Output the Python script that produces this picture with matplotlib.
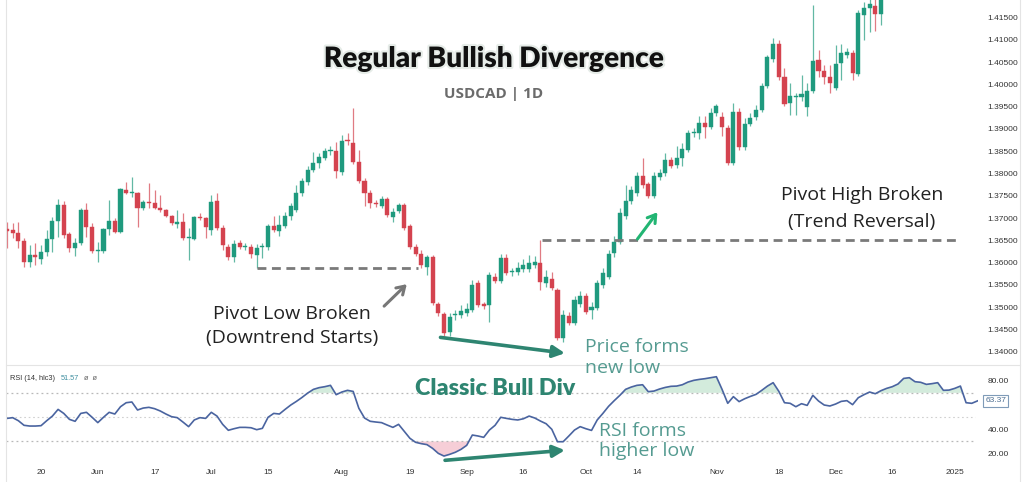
import matplotlib
matplotlib.use('Agg')
import matplotlib.pyplot as plt
from matplotlib.patches import Rectangle
from matplotlib.lines import Line2D
import matplotlib.patheffects as pe

# ---------------- data ----------------
opens = [1.3675, 1.3673, 1.3666, 1.3648, 1.3601, 1.3617, 1.3608, 1.3624, 1.3653, 1.3693,
         1.3729, 1.3664, 1.3633, 1.3644, 1.3718, 1.3680, 1.3626, 1.3626, 1.3675, 1.3693,
         1.3669, 1.3763, 1.3756, 1.3756, 1.3722, 1.3736, 1.3734, 1.3722, 1.3718, 1.3705,
         1.3687, 1.3691, 1.3655, 1.3653, 1.3702, 1.3700, 1.3673, 1.3738, 1.3678, 1.3635,
         1.3613, 1.3644, 1.3635, 1.3635, 1.3617, 1.3634, 1.3635, 1.3682, 1.3671, 1.3682,
         1.3705, 1.3718, 1.3756, 1.3781, 1.3808, 1.3823, 1.3835, 1.3850, 1.3850, 1.3803,
         1.3875, 1.3868, 1.3826, 1.3783, 1.3756, 1.3732, 1.3727, 1.3743, 1.3702, 1.3716,
         1.3729, 1.3682, 1.3635, 1.3619, 1.3590, 1.3613, 1.3507, 1.3485, 1.3444, 1.3482,
         1.3482, 1.3487, 1.3494, 1.3554, 1.3507, 1.3505, 1.3568, 1.3559, 1.3610, 1.3579,
         1.3579, 1.3586, 1.3586, 1.3595, 1.3599, 1.3554, 1.3563, 1.3539, 1.3431, 1.3480,
         1.3464, 1.3507, 1.3525, 1.3494, 1.3498, 1.3550, 1.3568, 1.3622, 1.3646, 1.3705,
         1.3738, 1.3756, 1.3794, 1.3776, 1.3749, 1.3792, 1.3801, 1.3830, 1.3819, 1.3835,
         1.3853, 1.3891, 1.3891, 1.3913, 1.3904, 1.3936, 1.3927, 1.3902, 1.3823, 1.3938,
         1.3859, 1.3911, 1.3927, 1.3942, 1.3996, 1.4057, 1.4091, 1.4017, 1.3958, 1.3972,
         1.3972, 1.3949, 1.3985, 1.4055, 1.4030, 1.4017, 1.3992, 1.4048, 1.4066, 1.4070,
         1.4023, 1.4156, 1.4171, 1.4176, 1.4158]
highs = [1.3691, 1.3689, 1.3691, 1.3655, 1.3639, 1.3644, 1.3639, 1.3673, 1.3702, 1.3743,
         1.3738, 1.3669, 1.3655, 1.3722, 1.3734, 1.3689, 1.3646, 1.3678, 1.3740, 1.3700,
         1.3767, 1.3781, 1.3792, 1.3758, 1.3740, 1.3779, 1.3763, 1.3752, 1.3720, 1.3707,
         1.3718, 1.3711, 1.3678, 1.3705, 1.3711, 1.3702, 1.3752, 1.3756, 1.3684, 1.3642,
         1.3651, 1.3651, 1.3644, 1.3642, 1.3642, 1.3644, 1.3687, 1.3705, 1.3707, 1.3713,
         1.3734, 1.3774, 1.3790, 1.3817, 1.3848, 1.3846, 1.3857, 1.3862, 1.3871, 1.3886,
         1.3891, 1.3947, 1.3853, 1.3790, 1.3763, 1.3740, 1.3749, 1.3747, 1.3722, 1.3734,
         1.3734, 1.3687, 1.3642, 1.3628, 1.3617, 1.3617, 1.3512, 1.3489, 1.3487, 1.3494,
         1.3505, 1.3509, 1.3561, 1.3561, 1.3512, 1.3579, 1.3577, 1.3619, 1.3619, 1.3588,
         1.3601, 1.3608, 1.3617, 1.3615, 1.3650, 1.3583, 1.3579, 1.3543, 1.3494, 1.3489,
         1.3525, 1.3536, 1.3532, 1.3512, 1.3561, 1.3588, 1.3628, 1.3660, 1.3722, 1.3774,
         1.3772, 1.3803, 1.3835, 1.3781, 1.3803, 1.3810, 1.3846, 1.3837, 1.3862, 1.3868,
         1.3898, 1.3902, 1.3929, 1.3929, 1.3947, 1.3956, 1.3938, 1.3909, 1.3958, 1.3947,
         1.3925, 1.3936, 1.3954, 1.4003, 1.4066, 1.4104, 1.4100, 1.4037, 1.4003, 1.3980,
         1.4021, 1.4003, 1.4178, 1.4077, 1.4043, 1.4043, 1.4088, 1.4091, 1.4082, 1.4077,
         1.4167, 1.4185, 1.4195, 1.4200, 1.4220]
lows = [1.3633, 1.3655, 1.3633, 1.3590, 1.3590, 1.3595, 1.3597, 1.3615, 1.3624, 1.3657,
        1.3655, 1.3624, 1.3615, 1.3639, 1.3657, 1.3622, 1.3601, 1.3622, 1.3662, 1.3666,
        1.3666, 1.3754, 1.3747, 1.3680, 1.3718, 1.3722, 1.3720, 1.3713, 1.3702, 1.3684,
        1.3678, 1.3651, 1.3606, 1.3651, 1.3696, 1.3655, 1.3662, 1.3673, 1.3628, 1.3606,
        1.3601, 1.3631, 1.3628, 1.3610, 1.3588, 1.3610, 1.3628, 1.3669, 1.3660, 1.3678,
        1.3696, 1.3713, 1.3749, 1.3774, 1.3803, 1.3812, 1.3830, 1.3841, 1.3790, 1.3796,
        1.3864, 1.3821, 1.3779, 1.3727, 1.3722, 1.3725, 1.3722, 1.3702, 1.3691, 1.3711,
        1.3673, 1.3631, 1.3615, 1.3588, 1.3572, 1.3505, 1.3480, 1.3435, 1.3435, 1.3471,
        1.3476, 1.3480, 1.3489, 1.3500, 1.3496, 1.3467, 1.3554, 1.3554, 1.3572, 1.3570,
        1.3572, 1.3579, 1.3579, 1.3588, 1.3539, 1.3545, 1.3539, 1.3426, 1.3422, 1.3460,
        1.3460, 1.3500, 1.3485, 1.3474, 1.3494, 1.3543, 1.3563, 1.3613, 1.3642, 1.3698,
        1.3731, 1.3749, 1.3767, 1.3745, 1.3745, 1.3785, 1.3794, 1.3812, 1.3812, 1.3817,
        1.3848, 1.3882, 1.3877, 1.3880, 1.3900, 1.3929, 1.3884, 1.3819, 1.3819, 1.3853,
        1.3853, 1.3907, 1.3920, 1.3938, 1.3992, 1.4050, 1.4010, 1.3951, 1.3931, 1.3931,
        1.3963, 1.3929, 1.3980, 1.4017, 1.4001, 1.3980, 1.3987, 1.4010, 1.4059, 1.4010,
        1.4019, 1.4100, 1.4117, 1.4120, 1.4133]
closes = [1.3671, 1.3666, 1.3648, 1.3601, 1.3617, 1.3613, 1.3624, 1.3653, 1.3693, 1.3729,
          1.3662, 1.3633, 1.3644, 1.3718, 1.3680, 1.3626, 1.3628, 1.3675, 1.3693, 1.3669,
          1.3765, 1.3756, 1.3757, 1.3722, 1.3736, 1.3734, 1.3722, 1.3718, 1.3705, 1.3689,
          1.3691, 1.3655, 1.3656, 1.3702, 1.3700, 1.3680, 1.3736, 1.3678, 1.3639, 1.3613,
          1.3642, 1.3635, 1.3636, 1.3619, 1.3633, 1.3636, 1.3682, 1.3673, 1.3684, 1.3705,
          1.3727, 1.3756, 1.3783, 1.3808, 1.3823, 1.3837, 1.3850, 1.3851, 1.3805, 1.3873,
          1.3873, 1.3826, 1.3783, 1.3756, 1.3734, 1.3731, 1.3743, 1.3707, 1.3713, 1.3729,
          1.3678, 1.3635, 1.3619, 1.3595, 1.3613, 1.3509, 1.3487, 1.3442, 1.3478, 1.3483,
          1.3491, 1.3496, 1.3550, 1.3505, 1.3503, 1.3572, 1.3559, 1.3610, 1.3577, 1.3580,
          1.3588, 1.3595, 1.3599, 1.3601, 1.3556, 1.3568, 1.3543, 1.3431, 1.3482, 1.3464,
          1.3516, 1.3525, 1.3489, 1.3500, 1.3554, 1.3577, 1.3619, 1.3646, 1.3711, 1.3738,
          1.3763, 1.3794, 1.3774, 1.3749, 1.3794, 1.3801, 1.3830, 1.3817, 1.3835, 1.3855,
          1.3891, 1.3892, 1.3913, 1.3904, 1.3936, 1.3951, 1.3904, 1.3823, 1.3938, 1.3859,
          1.3911, 1.3925, 1.3942, 1.3996, 1.4061, 1.4091, 1.4017, 1.3956, 1.3974, 1.3973,
          1.3978, 1.3985, 1.4052, 1.4030, 1.4017, 1.4003, 1.4046, 1.4070, 1.4073, 1.4026,
          1.4160, 1.4171, 1.4180, 1.4158, 1.4200]
rsi = [49.0, 49.6, 47.1, 43.3, 42.7, 42.7, 43.0, 47.1, 50.9, 56.4,
       53.1, 48.2, 46.6, 53.1, 54.0, 49.9, 45.5, 49.9, 54.0, 52.6,
       58.6, 61.9, 62.5, 55.9, 57.5, 58.1, 57.0, 55.1, 52.6, 50.4,
       49.6, 46.0, 42.2, 47.7, 49.6, 49.0, 54.0, 50.9, 44.1, 39.2,
       40.5, 41.6, 41.6, 41.3, 39.7, 40.8, 49.9, 53.1, 52.6, 56.4,
       60.0, 63.0, 66.3, 69.9, 72.9, 74.3, 75.1, 76.2, 68.5, 70.7,
       72.1, 71.2, 57.3, 49.3, 46.6, 46.0, 45.5, 43.5, 41.6, 44.1,
       38.3, 32.6, 29.3, 28.2, 27.4, 24.3, 20.2, 18.0, 19.4, 21.1,
       23.5, 26.8, 35.3, 34.5, 33.4, 39.4, 43.3, 49.9, 49.0, 48.2,
       47.7, 48.7, 50.9, 49.3, 46.8, 44.6, 40.0, 29.8, 29.8, 34.5,
       39.4, 42.2, 40.5, 39.1, 47.7, 53.1, 58.9, 63.6, 68.0, 72.9,
       74.8, 76.2, 76.7, 71.0, 71.5, 73.2, 74.5, 75.4, 75.6, 76.7,
       78.9, 80.3, 81.1, 81.7, 82.5, 83.3, 72.9, 61.4, 66.9, 62.8,
       65.2, 67.1, 68.8, 72.1, 75.6, 78.4, 71.3, 61.9, 61.4, 58.6,
       61.1, 59.7, 68.0, 63.3, 60.0, 59.2, 60.8, 63.0, 63.6, 60.3,
       66.0, 68.5, 70.7, 69.3, 71.8, 73.7, 75.1, 77.3, 81.9, 82.5,
       79.2, 78.7, 77.0, 77.6, 78.4, 72.1, 72.3, 73.7, 75.6, 61.9,
       61.4, 63.37]
date_tick_pos = [7, 17, 27, 37, 47, 60, 72, 82, 92, 103, 112, 126, 137, 147, 157, 168]
date_tick_labels = ['20', 'Jun', '17', 'Jul', '15', 'Aug', '19', 'Sep', '16', 'Oct',
                    '14', 'Nov', '18', 'Dec', '16', '2025']
price_ticks = [1.340, 1.345, 1.350, 1.355, 1.360, 1.365, 1.370, 1.375,
               1.380, 1.385, 1.390, 1.395, 1.400, 1.405, 1.410, 1.415]
rsi_ticks = [20, 40, 80]
pivot_low = 1.3588
pivot_low_span = [45, 73.4]
pivot_high = 1.3650
pivot_high_span = [95.3, 168.9]

GREEN = '#1f9a7e'
RED = '#d4434f'
TEAL = '#2e8571'
TEAL_LIGHT = '#559b91'

W, H = 1024, 482
fig = plt.figure(figsize=(W / 100, H / 100), dpi=100)
fig.patch.set_facecolor('white')

def fx(px):
    return px / W

def fy(py):
    return 1 - py / H

xmin, xmax = 0.824, 172.1
ax = fig.add_axes([fx(6), fy(362), fx(978) - fx(6), fy(0) - fy(362)])
ax2 = fig.add_axes([fx(6), fy(462), fx(978) - fx(6), fy(367) - fy(462)])

for a in (ax, ax2):
    a.set_xlim(xmin, xmax)
    for s in a.spines.values():
        s.set_visible(False)
    a.set_facecolor('white')

ax.set_ylim(1.3377, 1.41893)
ax2.set_ylim(13.1, 91.3)

# ---------------- candles ----------------
for i, (o, h, l, c) in enumerate(zip(opens, highs, lows, closes)):
    x = i + 1
    col = GREEN if c >= o else RED
    ax.vlines(x, l, h, color=col, lw=0.9, alpha=0.7, zorder=2)
    bottom = min(o, c)
    height = max(abs(c - o), 0.00025)
    ax.add_patch(Rectangle((x - 0.36, bottom), 0.72, height, facecolor=col,
                           edgecolor=col, lw=0.3, zorder=3))

# pivot lines
ax.hlines(pivot_low, pivot_low_span[0], pivot_low_span[1], colors='#7a7a7a',
          linestyles=(0, (3.2, 2.0)), lw=2.0, zorder=4)
ax.hlines(pivot_high, pivot_high_span[0], pivot_high_span[1], colors='#7a7a7a',
          linestyles=(0, (3.2, 2.0)), lw=2.0, zorder=4)

TICKFONT = ['Liberation Sans', 'DejaVu Sans']
ax.yaxis.tick_right()
ax.set_yticks(price_ticks)
ax.set_yticklabels(['%.5f' % t for t in price_ticks], family=TICKFONT)
ax.tick_params(axis='y', length=0, pad=7, labelsize=6.0, labelcolor='#333333')
ax.set_xticks([])

# arrows in price pane
ax.annotate('', xy=(71.8, 1.3556), xytext=(67.1, 1.3498),
            arrowprops=dict(arrowstyle='->,head_length=0.55,head_width=0.35',
                            color='#777777', lw=2.2), zorder=6)
ax.annotate('', xy=(115.9, 1.3718), xytext=(111.8, 1.3648),
            arrowprops=dict(arrowstyle='->,head_length=0.55,head_width=0.35',
                            color='#22b573', lw=2.2), zorder=6)
ax.annotate('', xy=(99.8, 1.3396), xytext=(76.9, 1.3433),
            arrowprops=dict(arrowstyle='-|>,head_length=0.7,head_width=0.35',
                            color=TEAL, lw=2.6), zorder=6)

# ---------------- RSI ----------------
xs = list(range(1, len(rsi) + 1))
frac = (975 - 6) / (978 - 6)
ax2.axhline(70, color='#b8b8b8', lw=0.9, ls=(0, (1.5, 2.5)), xmax=frac)
ax2.axhline(50, color='#d0d0d0', lw=0.8, ls=(0, (1.5, 2.5)), xmax=frac)
ax2.axhline(30, color='#b8b8b8', lw=0.9, ls=(0, (1.5, 2.5)), xmax=frac)
ax2.fill_between(xs, rsi, 70, where=[v > 70 for v in rsi], interpolate=True,
                 color='#cfe9d9', alpha=0.9, lw=0, zorder=1)
ax2.fill_between(xs, rsi, 30, where=[v < 30 for v in rsi], interpolate=True,
                 color='#f5c9d3', alpha=0.9, lw=0, zorder=1)
ax2.plot(xs, rsi, color='#4a64a0', lw=1.2, zorder=3)

ax2.yaxis.tick_right()
ax2.set_yticks(rsi_ticks)
ax2.set_yticklabels(['%.2f' % t for t in rsi_ticks], family=TICKFONT)
ax2.tick_params(axis='y', length=0, pad=7, labelsize=6.0, labelcolor='#333333')
ax2.set_xticks(date_tick_pos)
ax2.set_xticklabels(date_tick_labels, family=TICKFONT)
ax2.tick_params(axis='x', length=0, pad=5, labelsize=6.0, labelcolor='#333333')

ax2.annotate('', xy=(99.8, 23.0), xytext=(77.7, 14.3),
             arrowprops=dict(arrowstyle='-|>,head_length=0.7,head_width=0.35',
                             color=TEAL, lw=2.6), zorder=6)

# last value label
ax2.text(xmax + 1.3, rsi[-1], '%.2f' % rsi[-1], ha='left', va='center',
         fontsize=6.0, color='#4d6e91', family=TICKFONT,
         bbox=dict(boxstyle='square,pad=0.25', fc='white', ec='#7f9bb8', lw=0.8))

# RSI header
fig.text(fx(10), fy(380), 'RSI (14, hlc3)', fontsize=5.3, color='#333333', va='baseline',
         family=TICKFONT)
fig.text(fx(61), fy(380), '51.57', fontsize=5.3, color='#3f8fa0', va='baseline',
         family=TICKFONT)
fig.text(fx(84), fy(380), 'ø  ø', fontsize=5.3, color='#666666', va='baseline',
         family=TICKFONT)

# frame lines
for (x0, y0, x1, y1) in [(6, 0, 6, 482), (1020, 0, 1020, 482), (6, 365, 1020, 365)]:
    fig.add_artist(Line2D([fx(x0), fx(x1)], [fy(y0), fy(y1)], color='#e4e4e4', lw=0.8))

# ---------------- texts ----------------
HEAVY = ['Lato', 'DejaVu Sans']
t = fig.text(fx(494), fy(67), 'Regular Bullish Divergence', ha='center', va='baseline',
             fontsize=20.2, fontweight='heavy', family=HEAVY, color='#111111')
t.set_path_effects([pe.withStroke(linewidth=3, foreground='#e6ece8')])
fig.text(fx(494), fy(98), 'USDCAD | 1D', ha='center', va='baseline', fontsize=11,
         fontweight='bold', family=['Open Sans', 'DejaVu Sans'], color='#6b6b6b')

SANS = ['Open Sans', 'DejaVu Sans']
fig.text(fx(292), fy(319), 'Pivot Low Broken', ha='center', va='baseline', fontsize=14,
         family=SANS, color='#222222')
fig.text(fx(292), fy(343), '(Downtrend Starts)', ha='center', va='baseline', fontsize=14,
         family=SANS, color='#222222')
fig.text(fx(862), fy(200), 'Pivot High Broken', ha='center', va='baseline', fontsize=14,
         family=SANS, color='#222222')
fig.text(fx(862), fy(227), '(Trend Reversal)', ha='center', va='baseline', fontsize=14,
         family=SANS, color='#222222')
fig.text(fx(585), fy(352), 'Price forms', ha='left', va='baseline', fontsize=14,
         family=SANS, color=TEAL_LIGHT)
fig.text(fx(585), fy(373), 'new low', ha='left', va='baseline', fontsize=14,
         family=SANS, color=TEAL_LIGHT)
fig.text(fx(495), fy(395), 'Classic Bull Div', ha='center', va='baseline', fontsize=16.8,
         fontweight='heavy', family=HEAVY, color=TEAL)
fig.text(fx(599), fy(436), 'RSI forms', ha='left', va='baseline', fontsize=14,
         family=SANS, color=TEAL_LIGHT)
fig.text(fx(599), fy(456), 'higher low', ha='left', va='baseline', fontsize=14,
         family=SANS, color=TEAL_LIGHT)

fig.savefig('out.png', dpi=100, facecolor='white')
